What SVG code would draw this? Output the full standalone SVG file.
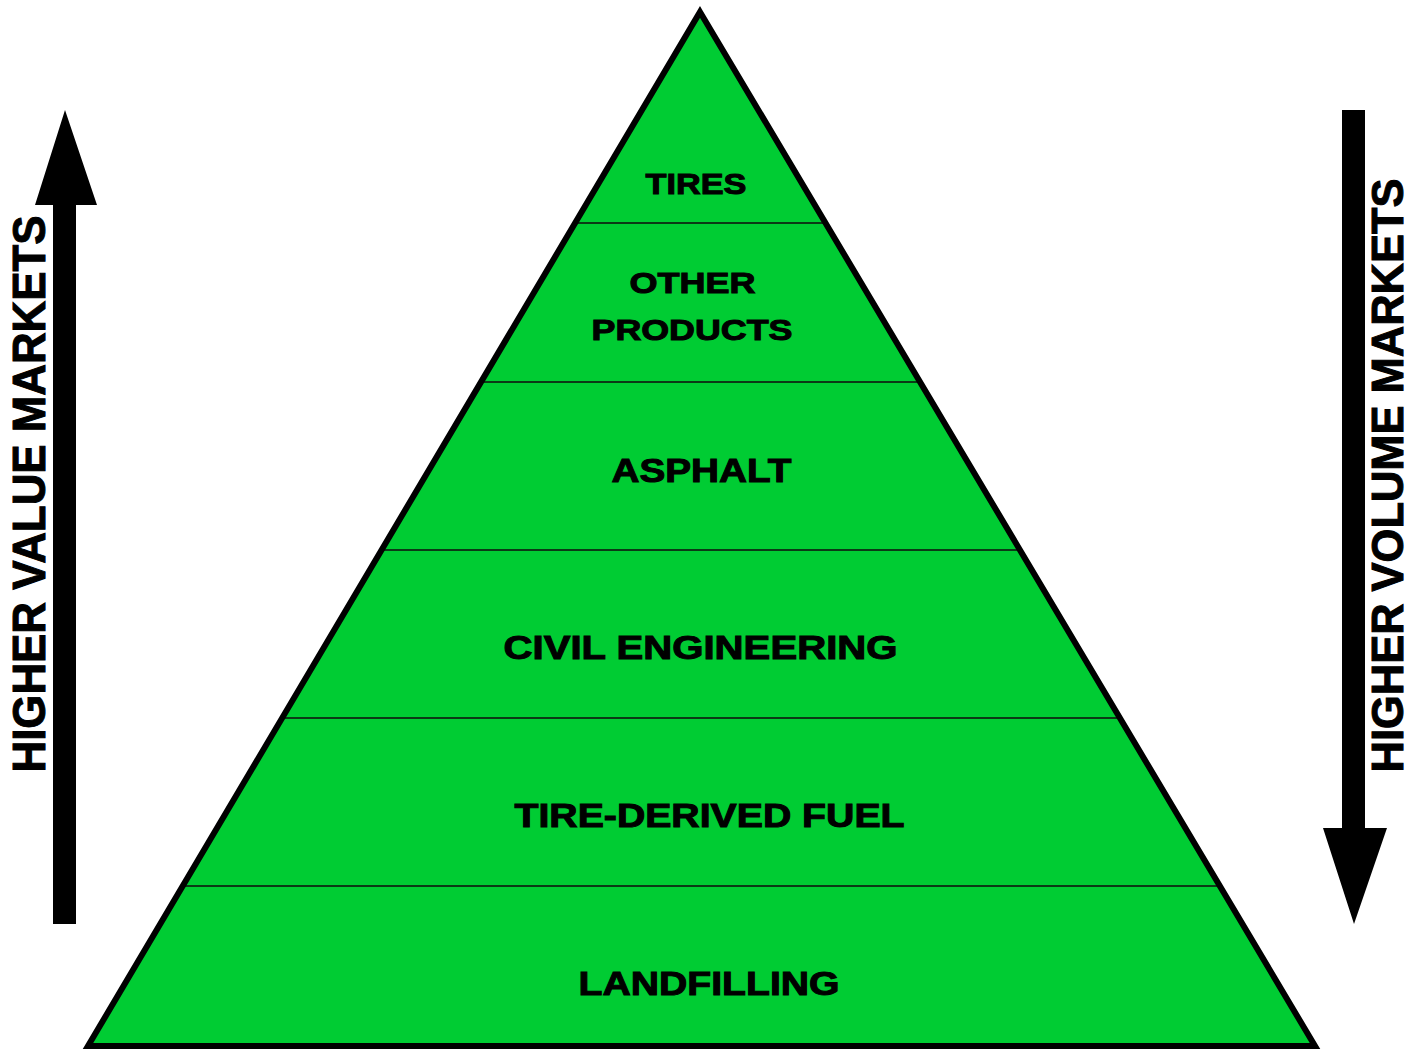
<svg xmlns="http://www.w3.org/2000/svg" width="1410" height="1050" viewBox="0 0 1410 1050">
<style>
.lbl{font-family:"Liberation Sans",Arial,sans-serif;font-weight:bold;fill:#000;stroke:#000;stroke-width:1;text-anchor:middle}
.div{stroke:#0b3a16;stroke-width:2}
</style>
<rect width="1410" height="1050" fill="#fff"/>
<g id="pyramid">
<polygon points="700,12 1315,1046 88,1046" fill="#00cc33"/>
<line class="div" x1="575" y1="223" x2="825" y2="223"/>
<line class="div" x1="481" y1="382" x2="919" y2="382"/>
<line class="div" x1="381" y1="550" x2="1019" y2="550"/>
<line class="div" x1="282" y1="718" x2="1118" y2="718"/>
<line class="div" x1="182" y1="886" x2="1218" y2="886"/>
<polygon points="700,12 1315,1046 88,1046" fill="none" stroke="#000" stroke-width="6" stroke-linejoin="miter"/>
</g>
<g id="tires"><text class="lbl" x="696" y="194" font-size="30" textLength="101" lengthAdjust="spacingAndGlyphs">TIRES</text></g>
<g id="other-products">
<text class="lbl" x="692.5" y="293" font-size="30" textLength="126" lengthAdjust="spacingAndGlyphs">OTHER</text>
<text class="lbl" x="692" y="340" font-size="30" textLength="201" lengthAdjust="spacingAndGlyphs">PRODUCTS</text>
</g>
<g id="asphalt"><text class="lbl" x="701.5" y="482" font-size="33" textLength="180" lengthAdjust="spacingAndGlyphs">ASPHALT</text></g>
<g id="civil-engineering"><text class="lbl" x="700.5" y="659" font-size="33" textLength="394" lengthAdjust="spacingAndGlyphs">CIVIL ENGINEERING</text></g>
<g id="tire-derived-fuel"><text class="lbl" x="709.5" y="827" font-size="33" textLength="390" lengthAdjust="spacingAndGlyphs">TIRE-DERIVED FUEL</text></g>
<g id="landfilling"><text class="lbl" x="709" y="995" font-size="33" textLength="261" lengthAdjust="spacingAndGlyphs">LANDFILLING</text></g>
<g id="connectors">
<polygon id="value-arrow" points="53,924 76,924 76,205 97,205 65,110 35,205 53,205" fill="#000"/>
<polygon id="volume-arrow" points="1342,110 1365,110 1365,828 1387,828 1354,924 1323,828 1342,828" fill="#000"/>
</g>
<g id="value-label"><text class="lbl" transform="translate(45,494) rotate(-90)" x="0" y="0" font-size="46" textLength="557" lengthAdjust="spacingAndGlyphs">HIGHER VALUE MARKETS</text></g>
<g id="volume-label"><text class="lbl" transform="translate(1403,475.5) rotate(-90)" x="0" y="0" font-size="44" textLength="594" lengthAdjust="spacingAndGlyphs">HIGHER VOLUME MARKETS</text></g>
</svg>
